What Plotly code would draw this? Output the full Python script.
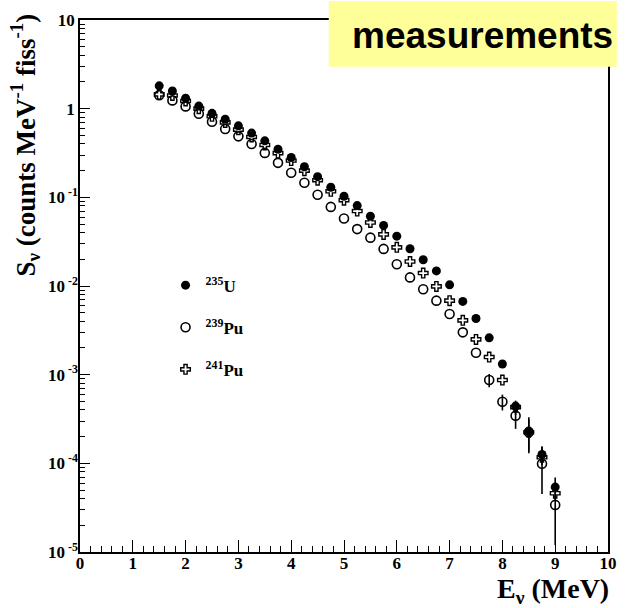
import plotly.graph_objects as go

# Neutrino energy bins (MeV)
energy = [1.5, 1.75, 2.0, 2.25, 2.5, 2.75, 3.0, 3.25, 3.5, 3.75,
          4.0, 4.25, 4.5, 4.75, 5.0, 5.25, 5.5, 5.75, 6.0, 6.25,
          6.5, 6.75, 7.0, 7.25, 7.5, 7.75, 8.0, 8.25, 8.5, 8.75, 9.0]

# Spectra S_nu (counts MeV^-1 fiss^-1)
u235 = [1.81, 1.58, 1.31, 1.07, 0.885, 0.76, 0.64, 0.53, 0.434, 0.349,
        0.281, 0.221, 0.171, 0.130, 0.103, 0.0807, 0.0612, 0.0482, 0.0365, 0.0263,
        0.0198, 0.0148, 0.0103, 0.0067, 0.0043, 0.0026, 0.00132, 4.4e-4, 2.3e-4, 1.26e-4, 5.4e-5]
pu239 = [1.42, 1.24, 1.06, 0.877, 0.713, 0.589, 0.487, 0.40, 0.317, 0.245,
         0.189, 0.146, 0.107, 0.078, 0.0577, 0.0438, 0.0351, 0.0262, 0.0176, 0.0125,
         0.0092, 0.00684, 0.00484, 0.0030, 0.00177, 8.7e-4, 4.95e-4, 3.45e-4, 2.24e-4, 9.9e-5, 3.4e-5]
pu241 = [1.45, 1.41, 1.22, 1.0, 0.82, 0.70, 0.58, 0.48, 0.39, 0.315,
         0.26, 0.20, 0.156, 0.117, 0.093, 0.070, 0.052, 0.0382, 0.0273, 0.0189,
         0.0140, 0.0099, 0.00684, 0.0041, 0.0025, 0.00158, 8.7e-4, 4.3e-4, 2.24e-4, 1.17e-4, 4.6e-5]

# Uncertainties (only significant in the high-energy tail)
u235_err = [0] * 28 + [1.0e-4, 3.0e-5, 1.5e-5]
pu239_err = [0] * 25 + [1.5e-4, 1.0e-4, 1.0e-4, 0.9e-4, 5.4e-5, 2.2e-5]
pu241_err = [0] * 27 + [0.8e-4, 0, 0, 0]

# Axis ticks
y_tickvals = [1e-5, 1e-4, 1e-3, 1e-2, 1e-1, 1, 10]
y_ticktext = ["<b>10<sup>&nbsp;-5</sup></b>", "<b>10<sup>&nbsp;-4</sup></b>", "<b>10<sup>&nbsp;-3</sup></b>",
              "<b>10<sup>&nbsp;-2</sup></b>", "<b>10<sup>&nbsp;-1</sup></b>",
              "<b>1<sup>&nbsp;</sup></b>", "<b>10<sup>&nbsp;</sup></b>"]
x_tickvals = list(range(0, 11))
x_ticktext = ["<b>%d</b>" % v for v in x_tickvals]

SERIF = "Liberation Serif"

fig = go.Figure()

err_style = dict(type="data", visible=True, color="black", thickness=1.6, width=0)

fig.add_trace(go.Scatter(
    x=energy, y=pu239, mode="markers", name="<b><sup>239</sup>Pu</b>",
    legendgroup="pu239", legendrank=2,
    marker=dict(symbol="circle-open", size=9, color="black", line=dict(width=1.6, color="black")),
    error_y=dict(array=pu239_err, **err_style),
))
fig.add_trace(go.Scatter(
    x=energy, y=pu241, mode="markers", name="<b><sup>241</sup>Pu</b>",
    legendgroup="pu241", legendrank=3,
    marker=dict(symbol="cross-open", size=8, color="black", line=dict(width=1.4, color="black")),
    error_y=dict(array=pu241_err, **err_style),
))
fig.add_trace(go.Scatter(
    x=energy, y=u235, mode="markers", name="<b><sup>235</sup>U</b>",
    legendgroup="u235", legendrank=1,
    marker=dict(symbol="circle", size=9, color="black"),
    error_y=dict(array=u235_err, **err_style),
))

axis_common = dict(
    showline=True, linecolor="black", linewidth=1.5, mirror=True,
    ticks="inside", tickcolor="black", tickwidth=1,
    showgrid=False, zeroline=False,
    tickfont=dict(family=SERIF, size=17, color="black"),
)

fig.update_xaxes(
    range=[0, 10], tickmode="array", tickvals=x_tickvals, ticktext=x_ticktext, ticklen=12,
    minor=dict(dtick=0.2, ticks="inside", ticklen=6, tickcolor="black", showgrid=False),
    ticklabelstandoff=-5,
    **axis_common,
)
fig.update_yaxes(
    type="log", range=[-5, 1], tickmode="array", tickvals=y_tickvals, ticktext=y_ticktext,
    ticklen=10,
    minor=dict(dtick="D1", ticks="inside", ticklen=5, tickcolor="black", showgrid=False),
    ticklabelstandoff=-3,
    **axis_common,
)

# Header box
fig.add_shape(type="rect", xref="paper", yref="paper",
              x0=(333 - 80) / 537, x1=(626 - 80) / 537,
              y0=(552 - 64) / 535, y1=(552 + 2) / 535,
              fillcolor="#FFFF99", line=dict(width=0), layer="above")
fig.add_annotation(text="<b>measurements</b>", xref="paper", yref="paper",
                   x=(489 - 80) / 537, y=(552 - 33) / 535, showarrow=False,
                   xanchor="center", yanchor="middle",
                   font=dict(family="Liberation Sans", size=37, color="black"))

# Axis titles
fig.add_annotation(text="<b>S<sub>ν</sub> (counts MeV<sup>-1</sup> fiss<sup>-1</sup>)</b>",
                   xref="paper", yref="paper", x=(24 - 80) / 537, y=(552 - 8) / 535,
                   xanchor="center", yanchor="top", textangle=-90, showarrow=False,
                   font=dict(family=SERIF, size=27, color="black"))
fig.add_annotation(text="<b>E<sub>ν</sub> (MeV)</b>",
                   xref="paper", yref="paper", x=(620 - 80) / 537, y=(552 - 591) / 535,
                   xanchor="right", yanchor="middle", showarrow=False,
                   font=dict(family=SERIF, size=28, color="black"))

fig.update_layout(
    width=625, height=608,
    margin=dict(l=80, r=8, t=17, b=56),
    paper_bgcolor="white", plot_bgcolor="white",
    showlegend=True,
    legend=dict(x=(167 - 80) / 537, y=(552 - 266) / 535, xanchor="left", yanchor="top",
                bgcolor="rgba(0,0,0,0)", tracegroupgap=17,
                font=dict(family=SERIF, size=17, color="black")),
)

fig.write_html("out.html")
